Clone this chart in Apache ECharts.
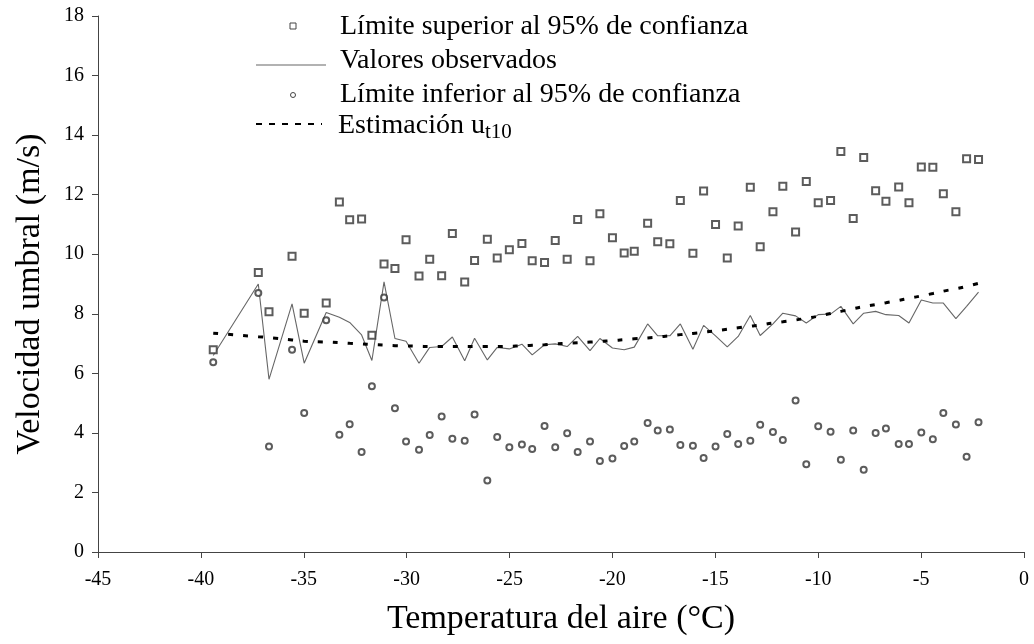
<!DOCTYPE html>
<html lang="es">
<head>
<meta charset="UTF-8">
<title>Velocidad umbral</title>
<script src="https://cdn.jsdelivr.net/npm/echarts@6/dist/echarts.min.js"></script>
<style>
  html, body { margin: 0; padding: 0; background: #fff; }
  #main { width: 1034px; height: 644px; }
</style>
</head>
<body>
<div id="main"></div>
<script type="text/javascript">
// temperatura del aire (°C)
var temps = [
  -39.40, -37.21, -36.69, -35.57, -34.98, -33.91, -33.27, -32.77, -32.19, -31.69, -31.10, -30.57, -30.03,
  -29.40, -28.88, -28.30, -27.78, -27.18, -26.70, -26.08, -25.60, -25.01, -24.40, -23.90, -23.30, -22.78,
  -22.20, -21.69, -21.09, -20.61, -20.00,
  -19.43, -18.94, -18.29, -17.80, -17.21, -16.70, -16.09, -15.57, -14.99, -14.42, -13.89, -13.30, -12.82,
  -12.20, -11.72, -11.10, -10.58, -10.00,
  -9.40, -8.90, -8.30, -7.79, -7.21, -6.71, -6.09, -5.59, -4.99, -4.43, -3.92, -3.31, -2.79, -2.21
];
// límite superior al 95%
var upper = [
  6.79, 9.39, 8.07, 9.93, 8.02, 8.36, 11.75, 11.16, 11.18, 7.28, 9.67, 9.52, 10.49,
  9.27, 9.83, 9.28, 10.70, 9.07, 9.79, 10.50, 9.87, 10.15, 10.36, 9.78, 9.72, 10.46,
  9.83, 11.17, 9.78, 11.36, 10.55,
  10.04, 10.10, 11.04, 10.42, 10.35, 11.80, 10.03, 12.12, 11.00, 9.87, 10.95, 12.25, 10.25,
  11.43, 12.28, 10.75, 12.44, 11.73,
  11.80, 13.45, 11.20, 13.25, 12.13, 11.78, 12.26, 11.73, 12.93, 12.92, 12.03, 11.43, 13.21, 13.18
];
// valores observados
var observed = [
  6.60, 9.00, 5.80, 8.33, 6.34, 8.04, 7.88, 7.71, 7.29, 6.43, 9.07, 7.17, 7.08,
  6.34, 6.87, 6.90, 7.22, 6.42, 7.18, 6.45, 6.87, 6.82, 6.98, 6.62, 6.96, 6.99,
  6.90, 7.24, 6.76, 7.17, 6.85,
  6.79, 6.88, 7.66, 7.26, 7.26, 7.66, 6.81, 7.61, 7.26, 6.89, 7.24, 7.94, 7.27,
  7.66, 8.02, 7.93, 7.69, 7.97,
  7.99, 8.25, 7.66, 8.02, 8.08, 7.97, 7.94, 7.69, 8.46, 8.36, 8.36, 7.84, 8.25, 8.73
];
// límite inferior al 95%
var lower = [
  6.37, 8.70, 3.54, 6.79, 4.67, 7.78, 3.94, 4.29, 3.36, 5.57, 8.55, 4.83, 3.71,
  3.43, 3.93, 4.55, 3.80, 3.74, 4.62, 2.40, 3.86, 3.52, 3.61, 3.46, 4.23, 3.52,
  3.99, 3.36, 3.71, 3.06, 3.14,
  3.56, 3.71, 4.33, 4.08, 4.11, 3.59, 3.57, 3.16, 3.54, 3.96, 3.63, 3.74, 4.27,
  4.03, 3.76, 5.09, 2.95, 4.22,
  4.04, 3.10, 4.08, 2.76, 4.00, 4.15, 3.63, 3.63, 4.01, 3.79, 4.67, 4.28, 3.20, 4.36
];
// estimación u_t10
var estimate = [
  7.35, 7.23, 7.20, 7.12, 7.08, 7.05, 7.03, 7.01, 6.99, 6.97, 6.95, 6.93, 6.92,
  6.91, 6.90, 6.90, 6.90, 6.90, 6.90, 6.90, 6.90, 6.91, 6.92, 6.94, 6.96, 6.99,
  7.01, 7.03, 7.05, 7.07, 7.10,
  7.13, 7.16, 7.19, 7.22, 7.26, 7.30, 7.34, 7.38, 7.43, 7.48, 7.53, 7.58, 7.62,
  7.69, 7.73, 7.79, 7.85, 7.92,
  8.01, 8.08, 8.17, 8.24, 8.31, 8.37, 8.45, 8.52, 8.60, 8.68, 8.76, 8.84, 8.92, 9.02
];

function pairs(ys) {
  return temps.map(function (t, i) { return [t, ys[i]]; });
}

var serif = '"Liberation Serif", "DejaVu Serif", serif';
var myChart = echarts.init(document.getElementById('main'), null, { renderer: 'canvas' });

var option = {
  backgroundColor: '#fff',
  animation: false,
  grid: { left: 98, right: 10, top: 16, bottom: 92 },
  xAxis: {
    type: 'value',
    min: -45, max: 0, interval: 5,
    name: 'Temperatura del aire (°C)',
    nameLocation: 'middle',
    nameGap: 50,
    nameTextStyle: { fontFamily: serif, fontSize: 34, color: '#000' },
    axisLine: { onZero: false, lineStyle: { color: '#444', width: 1 } },
    axisTick: { length: 6, lineStyle: { color: '#444' } },
    axisLabel: { fontFamily: serif, fontSize: 20, color: '#000', margin: 18 },
    splitLine: { show: false }
  },
  yAxis: {
    type: 'value',
    min: 0, max: 18, interval: 2,
    name: 'Velocidad umbral (m/s)',
    nameLocation: 'middle',
    nameGap: 51,
    nameTextStyle: { fontFamily: serif, fontSize: 34, color: '#000', padding: [0, 20, 0, 0] },
    axisLine: { show: true, onZero: false, lineStyle: { color: '#444', width: 1 } },
    axisTick: { show: true, length: 6, lineStyle: { color: '#444' } },
    axisLabel: { fontFamily: serif, fontSize: 20, color: '#000', margin: 14 },
    splitLine: { show: false }
  },
  series: [
    {
      name: 'Valores observados',
      type: 'line',
      data: pairs(observed),
      showSymbol: false,
      lineStyle: { color: '#666', width: 1.1 },
      z: 2
    },
    {
      name: 'Estimación',
      type: 'line',
      data: pairs(estimate),
      showSymbol: false,
      smooth: true,
      lineStyle: { color: '#000', width: 3, type: [5, 10] },
      z: 3
    },
    {
      name: 'Límite superior',
      type: 'scatter',
      data: pairs(upper),
      symbol: 'emptyRect',
      symbolSize: 7,
      itemStyle: { color: '#333', borderWidth: 1 },
      z: 4
    },
    {
      name: 'Límite inferior',
      type: 'scatter',
      data: pairs(lower),
      symbol: 'emptyCircle',
      symbolSize: 6,
      itemStyle: { color: '#333', borderWidth: 1 },
      z: 4
    }
  ],
  // leyenda dibujada a mano
  graphic: [
    { type: 'rect', shape: { x: 290, y: 23, width: 6, height: 6 },
      style: { fill: '#fff', stroke: '#444', lineWidth: 1 } },
    { type: 'text', x: 340, y: 27,
      style: { text: 'Límite superior al 95% de confianza', font: '28px ' + serif, fill: '#000', verticalAlign: 'middle' } },
    { type: 'line', shape: { x1: 256, y1: 65, x2: 326, y2: 65 },
      style: { stroke: '#666', lineWidth: 1.1 } },
    { type: 'text', x: 340, y: 61,
      style: { text: 'Valores observados', font: '28px ' + serif, fill: '#000', verticalAlign: 'middle' } },
    { type: 'circle', shape: { cx: 293, cy: 95, r: 2.5 },
      style: { fill: '#fff', stroke: '#444', lineWidth: 1 } },
    { type: 'text', x: 340, y: 95,
      style: { text: 'Límite inferior al 95% de confianza', font: '28px ' + serif, fill: '#000', verticalAlign: 'middle' } },
    { type: 'line', shape: { x1: 256, y1: 124, x2: 322, y2: 124 },
      style: { stroke: '#000', lineWidth: 2, lineDash: [6, 7] } },
    { type: 'text', x: 338, y: 109,
      style: {
        text: '{a|Estimación u}{b|t10}',
        fill: '#000',
        rich: {
          a: { fontFamily: serif, fontSize: 28, lineHeight: 34, verticalAlign: 'middle' },
          b: { fontFamily: serif, fontSize: 21, lineHeight: 21, verticalAlign: 'bottom' }
        }
      } }
  ]
};

myChart.setOption(option);
</script>
</body>
</html>
